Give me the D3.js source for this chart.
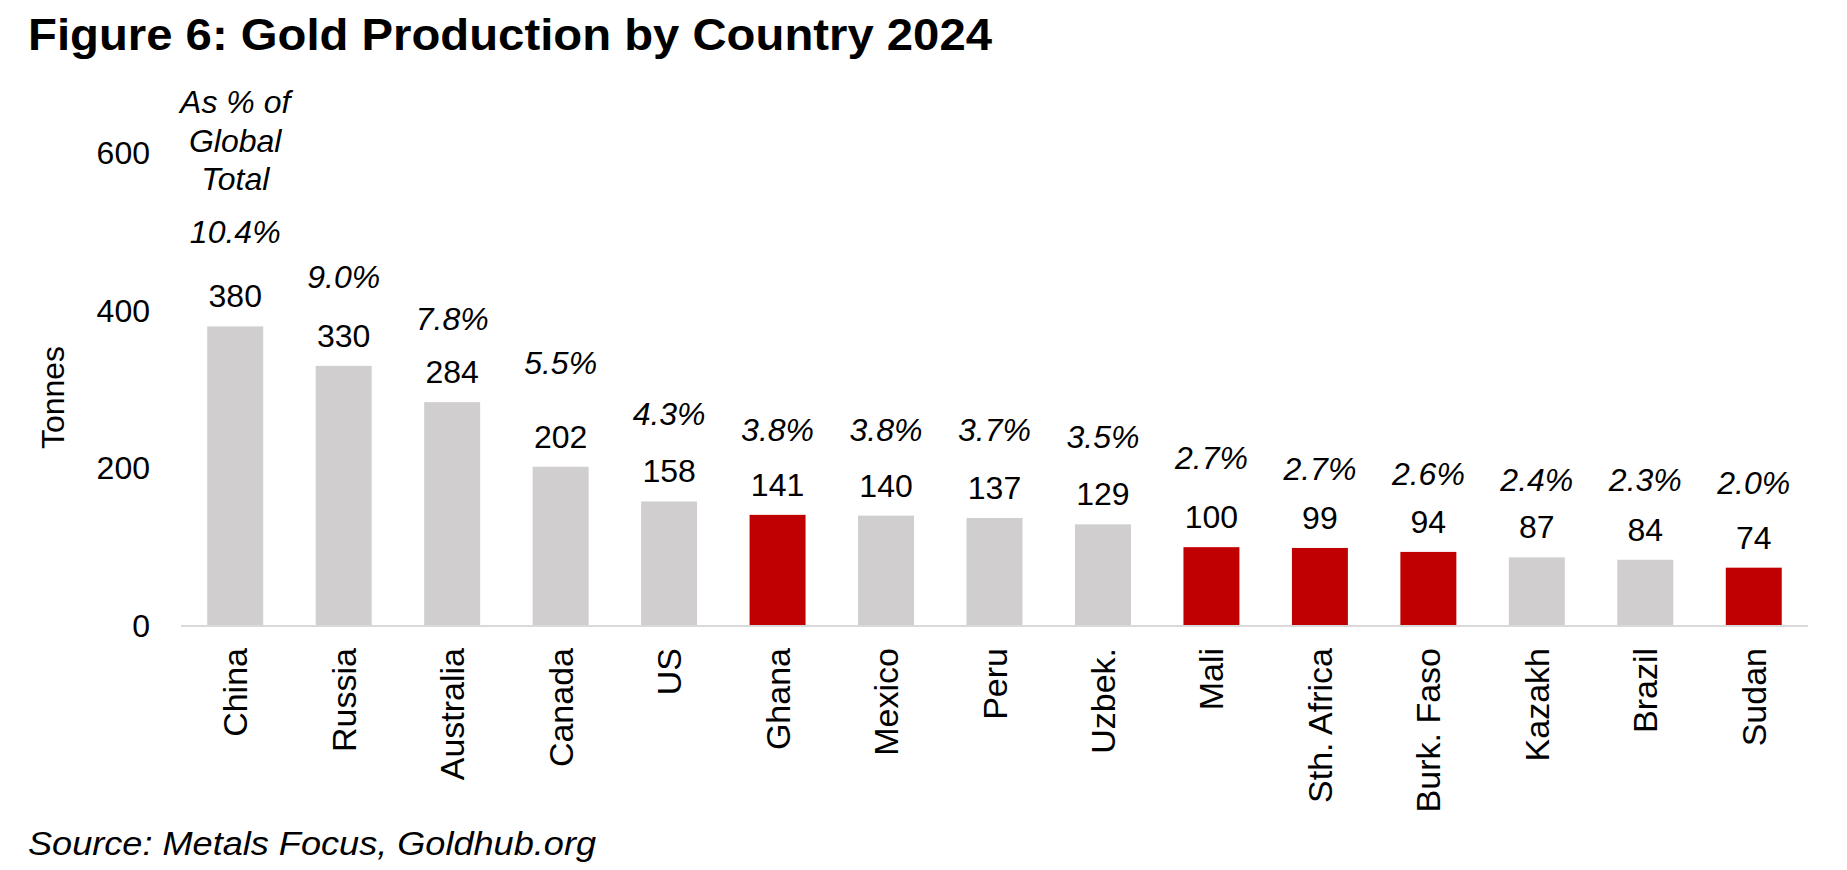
<!DOCTYPE html>
<html>
<head>
<meta charset="utf-8">
<script src="https://cdn.jsdelivr.net/npm/d3@7"></script>
<style>
  body { margin: 0; background: #fff; }
  text { font-family: "Liberation Sans", Arial, sans-serif; fill: #000; }
</style>
</head>
<body>
<div id="chart"></div>
<script>
// Data
const countries = ["China", "Russia", "Australia", "Canada", "US", "Ghana", "Mexico", "Peru",
                   "Uzbek.", "Mali", "Sth. Africa", "Burk. Faso", "Kazakh", "Brazil", "Sudan"];
const tonnes = [380, 330, 284, 202, 158, 141, 140, 137, 129, 100, 99, 94, 87, 84, 74];
const shareOfGlobal = ["10.4%", "9.0%", "7.8%", "5.5%", "4.3%", "3.8%", "3.8%", "3.7%",
                       "3.5%", "2.7%", "2.7%", "2.6%", "2.4%", "2.3%", "2.0%"];
// hidden series (tonnes) that carries the % labels
const shareLabelLevel = [486, 429, 376, 320, 255, 235, 235, 235, 226, 199, 185, 179, 171, 171, 168];
const african = ["Ghana", "Mali", "Sth. Africa", "Burk. Faso", "Sudan"];
const yTicks = [0, 200, 400, 600];

const data = countries.map((c, i) => ({
  country: c, value: tonnes[i], share: shareOfGlobal[i], level: shareLabelLevel[i]
}));

const W = 1847, H = 870;
const svg = d3.select("#chart").append("svg")
  .attr("width", W).attr("height", H);

const x = d3.scaleBand()
  .domain(countries)
  .range([181, 1808])
  .paddingInner(0.484)
  .paddingOuter(0.242);

const y = d3.scaleLinear()
  .domain([0, 600])
  .range([626, 153]);

// Title
svg.append("text")
  .attr("x", 28).attr("y", 50)
  .attr("textLength", 964).attr("lengthAdjust", "spacingAndGlyphs")
  .style("font-size", "45px").style("font-weight", "bold")
  .text("Figure 6: Gold Production by Country 2024");

// Y axis (labels only)
svg.append("g")
  .selectAll("text")
  .data(yTicks)
  .enter().append("text")
  .attr("x", 150)
  .attr("y", d => y(d) + 11)
  .attr("text-anchor", "end")
  .style("font-size", "32px")
  .text(d => d);

svg.append("text")
  .attr("transform", `translate(64, ${(y(0) + y(600)) / 2 + 8}) rotate(-90)`)
  .attr("text-anchor", "middle")
  .style("font-size", "32px")
  .text("Tonnes");

// Bars
svg.selectAll(".bar")
  .data(data)
  .enter().append("rect")
  .attr("class", "bar")
  .attr("x", d => x(d.country))
  .attr("y", d => y(d.value))
  .attr("width", x.bandwidth())
  .attr("height", d => y(0) - y(d.value) + 1)
  .attr("fill", d => african.includes(d.country) ? "#c00000" : "#d0cece");

// Baseline
svg.append("line")
  .attr("x1", x.range()[0]).attr("x2", x.range()[1])
  .attr("y1", y(0)).attr("y2", y(0))
  .attr("stroke", "#d9d9d9").attr("stroke-width", 2);

// Value labels
svg.selectAll(".val")
  .data(data)
  .enter().append("text")
  .attr("class", "val")
  .attr("x", d => x(d.country) + x.bandwidth() / 2)
  .attr("y", d => y(d.value) - 19)
  .attr("text-anchor", "middle")
  .style("font-size", "32px")
  .text(d => d.value);

// Share labels
svg.selectAll(".share")
  .data(data)
  .enter().append("text")
  .attr("class", "share")
  .attr("x", d => x(d.country) + x.bandwidth() / 2)
  .attr("y", d => y(d.level))
  .attr("text-anchor", "middle")
  .style("font-size", "32px").style("font-style", "italic")
  .text(d => d.share);

// "As % of Global Total" note above the first bar
const note = svg.append("text")
  .attr("text-anchor", "middle")
  .style("font-size", "32px").style("font-style", "italic");
["As % of", "Global", "Total"].forEach((t, i) => {
  note.append("tspan")
    .attr("x", x(countries[0]) + x.bandwidth() / 2)
    .attr("y", 113 + i * 38.5)
    .text(t);
});

// X axis labels
svg.selectAll(".xlab")
  .data(countries)
  .enter().append("text")
  .attr("class", "xlab")
  .attr("transform", d => `translate(${x(d) + x.bandwidth() / 2 + 12}, ${y(0) + 22}) rotate(-90)`)
  .attr("text-anchor", "end")
  .style("font-size", "34px")
  .text(d => d);

// Source
svg.append("text")
  .attr("x", 28).attr("y", 855)
  .attr("textLength", 568).attr("lengthAdjust", "spacingAndGlyphs")
  .style("font-size", "34px").style("font-style", "italic")
  .text("Source: Metals Focus, Goldhub.org");
</script>
</body>
</html>
